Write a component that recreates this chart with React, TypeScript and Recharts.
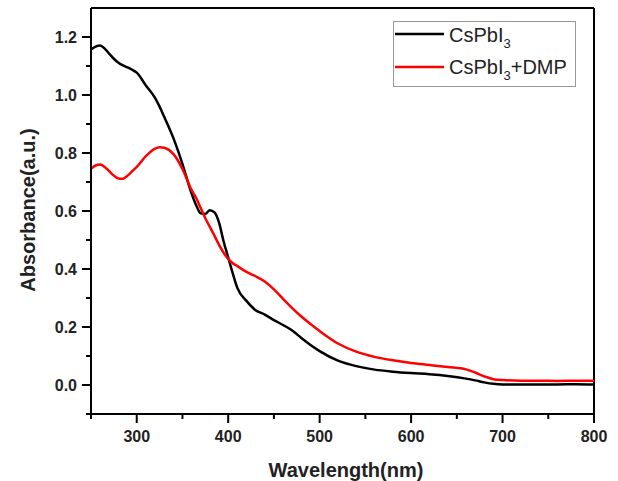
import React from "react";
import { LineChart, Line, XAxis, YAxis, Legend, ReferenceLine } from "recharts";

// wavelength grid (nm)
const wavelengths = [
  250, 255, 260, 265, 270, 275, 280, 285, 290, 295, 300, 310, 320, 325, 330, 340, 350, 360, 365, 370, 375,
  380, 385, 390, 395, 400, 405, 410, 420, 430, 440, 450, 460, 470, 480, 490, 500, 520, 540, 560, 580, 600,
  620, 640, 660, 670, 680, 690, 700, 720, 740, 760, 780, 800,
];

// absorbance, pristine CsPbI3
const cspbi3 = [
  1.157, 1.167, 1.171, 1.16, 1.142, 1.125, 1.111, 1.102, 1.095, 1.087, 1.077, 1.033, 0.99, 0.96, 0.925, 0.852,
  0.762, 0.66, 0.62, 0.592, 0.59, 0.603, 0.595, 0.56, 0.495, 0.44, 0.385, 0.335, 0.29, 0.258, 0.243, 0.224,
  0.207, 0.188, 0.162, 0.138, 0.117, 0.084, 0.065, 0.053, 0.046, 0.041, 0.037, 0.031, 0.022, 0.016, 0.009,
  0.004, 0.002, 0.002, 0.002, 0.002, 0.003, 0.002,
];

// absorbance, CsPbI3 + DMP
const cspbi3Dmp = [
  0.745, 0.757, 0.76, 0.752, 0.737, 0.722, 0.712, 0.711, 0.722, 0.737, 0.752, 0.789, 0.815, 0.82, 0.818, 0.797,
  0.745, 0.672, 0.645, 0.61, 0.575, 0.545, 0.515, 0.483, 0.456, 0.435, 0.42, 0.41, 0.39, 0.375, 0.357, 0.33,
  0.297, 0.265, 0.236, 0.21, 0.186, 0.143, 0.115, 0.097, 0.085, 0.076, 0.069, 0.062, 0.054, 0.043, 0.03,
  0.02, 0.017, 0.015, 0.015, 0.014, 0.015, 0.015,
];

const xTicks = [250, 300, 350, 400, 450, 500, 550, 600, 650, 700, 750, 800];
const yTicks = [-0.1, 0.0, 0.1, 0.2, 0.3, 0.4, 0.5, 0.6, 0.7, 0.8, 0.9, 1.0, 1.1, 1.2];

const data = wavelengths.map((w, i) => ({ w, a: cspbi3[i], b: cspbi3Dmp[i] }));

const FONT = "Arial, 'Liberation Sans', sans-serif";

const XTick = (props: any) => {
  const { x, y, payload } = props;
  const major = payload.value % 100 === 0;
  return (
    <g>
      <line x1={x} x2={x} y1={y} y2={y + (major ? 9 : 5)} stroke="#000" strokeWidth={2} />
      {major && (
        <text x={x} y={y + 28} textAnchor="middle" fontFamily={FONT} fontWeight="bold" fontSize={16} fill="#222">
          {payload.value}
        </text>
      )}
    </g>
  );
};

const YTick = (props: any) => {
  const { x, y, payload } = props;
  const major = Math.round(payload.value * 10) % 2 === 0;
  return (
    <g>
      <line x1={x - (major ? 9 : 5)} x2={x} y1={y} y2={y} stroke="#000" strokeWidth={2} />
      {major && (
        <text x={x - 14} y={y} dy="0.35em" textAnchor="end" fontFamily={FONT} fontWeight="bold" fontSize={16} fill="#222">
          {payload.value.toFixed(1)}
        </text>
      )}
    </g>
  );
};

const LegendBox = () => (
  <svg width={184} height={67} style={{ display: "block" }}>
    <rect x={0.5} y={0.5} width={182} height={65} fill="#fff" stroke="#999" strokeWidth={1} />
    <line x1={2} x2={51} y1={13} y2={13} stroke="#000" strokeWidth={2.5} />
    <text x={56} y={21} fontFamily={FONT} fontSize={20} fill="#222">
      CsPbI
      <tspan fontSize={13} dy={6}>3</tspan>
    </text>
    <line x1={2} x2={51} y1={46} y2={46} stroke="#ff0000" strokeWidth={2.5} />
    <text x={56} y={53} fontFamily={FONT} fontSize={20} fill="#222">
      CsPbI
      <tspan fontSize={13} dy={6}>3</tspan>
      <tspan dy={-6}>+DMP</tspan>
    </text>
  </svg>
);

export default function App() {
  return (
    <div style={{ position: "absolute", left: 0, top: 0, width: 618, height: 481, background: "#fff" }}>
      <LineChart width={618} height={481} data={data} margin={{ top: 8, right: 24, left: 0, bottom: 0 }}>
        <XAxis
          dataKey="w"
          type="number"
          domain={[250, 800]}
          ticks={xTicks}
          interval={0}
          allowDataOverflow
          height={67}
          tickSize={0}
          tickMargin={0}
          tickLine={false}
          axisLine={{ stroke: "#000", strokeWidth: 2 }}
          tick={<XTick />}
          label={(p: any) => (
            <text x={346} y={477} textAnchor="middle" fontFamily={FONT} fontWeight="bold" fontSize={20} fill="#222">
              Wavelength(nm)
            </text>
          )}
        />
        <YAxis
          type="number"
          domain={[-0.1, 1.3]}
          ticks={yTicks}
          interval={0}
          allowDataOverflow
          width={91}
          tickSize={0}
          tickMargin={0}
          tickLine={false}
          axisLine={{ stroke: "#000", strokeWidth: 2 }}
          tick={<YTick />}
          label={(p: any) => (
            <text
              x={35}
              y={210}
              transform="rotate(-90 35 210)"
              textAnchor="middle"
              fontFamily={FONT}
              fontWeight="bold"
              fontSize={20}
              fill="#222"
            >
              Absorbance(a.u.)
            </text>
          )}
        />
        <ReferenceLine y={1.3} stroke="#000" strokeWidth={2} />
        <ReferenceLine x={800} stroke="#000" strokeWidth={2} />
        <Legend
          layout="horizontal"
          verticalAlign="middle"
          align="center"
          content={<LegendBox />}
          wrapperStyle={{ position: "absolute", left: 393, top: 21, width: 184, height: 67 }}
        />
        <Line type="monotone" dataKey="a" stroke="#000" strokeWidth={2.5} dot={false} isAnimationActive={false} />
        <Line type="monotone" dataKey="b" stroke="#ff0000" strokeWidth={2.5} dot={false} isAnimationActive={false} />
      </LineChart>
    </div>
  );
}
